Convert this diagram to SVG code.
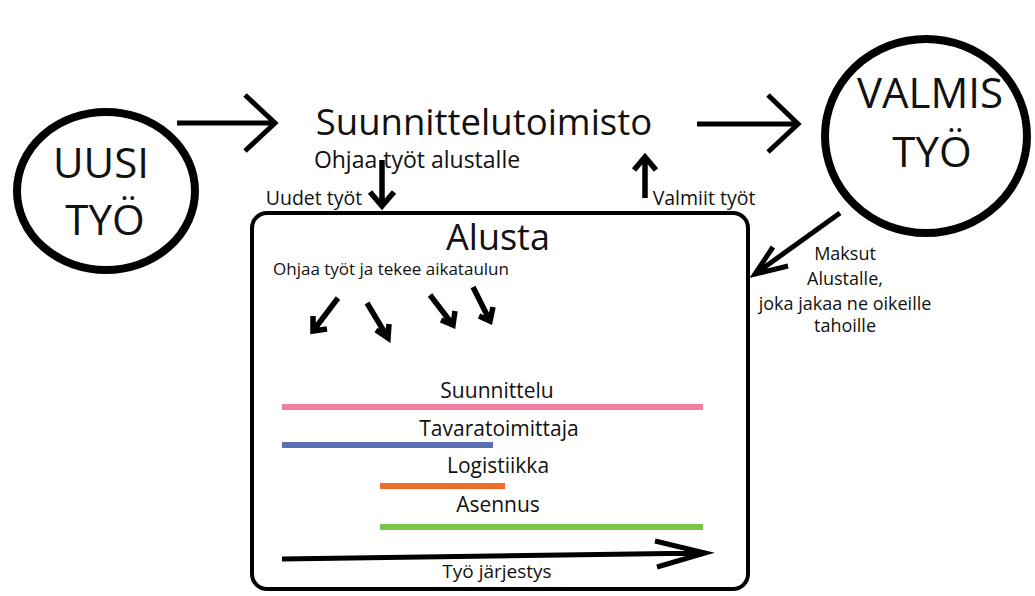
<svg xmlns="http://www.w3.org/2000/svg" width="1035" height="596" viewBox="0 0 1035 596">
<style>
text{font-family:"Open Sans","Noto Sans","Liberation Sans",sans-serif;fill:#111;text-anchor:middle}
.ring{fill:none;stroke:#000;stroke-width:8}
.ln{fill:none;stroke:#000;stroke-width:5;stroke-linecap:butt;stroke-linejoin:miter}
.th{fill:none;stroke:#000;stroke-width:5.5;stroke-linejoin:miter}
.bar{stroke-width:6}
.lab{font-size:21px}
.sm{font-size:18px}
</style>
<rect width="1035" height="596" fill="#fff"/>
<g id="uusi">
<ellipse class="ring" cx="106" cy="191" rx="89" ry="79"/>
<text x="101" y="178" font-size="42">UUSI</text>
<text x="105" y="235" font-size="42">TYÖ</text>
</g>
<g id="suunnittelutoimisto">
<text x="484" y="135" font-size="36.5">Suunnittelutoimisto</text>
<text x="417" y="168" font-size="23">Ohjaa työt alustalle</text>
</g>
<g id="valmis">
<ellipse class="ring" cx="926" cy="136" rx="101" ry="97"/>
<text x="930" y="108" font-size="42">VALMIS</text>
<text x="932" y="167" font-size="42">TYÖ</text>
</g>
<g id="alusta">
<rect x="252" y="213" width="496" height="376" rx="15" fill="none" stroke="#000" stroke-width="4"/>
<text x="498" y="250" font-size="36">Alusta</text>
<text x="391" y="275" font-size="17">Ohjaa työt ja tekee aikataulun</text>
<text class="lab" x="497" y="398">Suunnittelu</text>
<line class="bar" x1="282" y1="407" x2="703" y2="407" stroke="#ef7fa0"/>
<text class="lab" x="499" y="436">Tavaratoimittaja</text>
<line class="bar" x1="282" y1="445" x2="493" y2="445" stroke="#5b6fb3"/>
<text class="lab" x="498" y="473">Logistiikka</text>
<line class="bar" x1="380" y1="486" x2="505" y2="486" stroke="#f06a28"/>
<text class="lab" x="498" y="512">Asennus</text>
<line class="bar" x1="380" y1="527" x2="703" y2="527" stroke="#7cc34a"/>
<text x="497" y="578" font-size="19">Työ järjestys</text>
</g>
<g id="connectors">
<path class="ln" d="M177 123H275M245 95L275 123L245 151"/>
<path class="ln" d="M697 124H798M768 95L798 124L768 152"/>
<path class="th" d="M382 160V206M370 192L382 206L394 192"/>
<text x="314" y="205" font-size="19.5">Uudet työt</text>
<path class="th" d="M645 198V158M634 170L645 157L656 170"/>
<text x="704" y="205" font-size="19.5">Valmiit työt</text>
<path class="ln" d="M840 213L755 274M773 247L755 274L788 266"/>
<text class="sm" x="845" y="260">Maksut</text>
<text class="sm" x="845" y="285">Alustalle,</text>
<text class="sm" x="845" y="310">joka jakaa ne oikeille</text>
<text class="sm" x="845" y="332">tahoille</text>
<path class="th" d="M338 298L313 331M313 316L313 331L327 329"/>
<path class="th" d="M367 303L388 338M376 330L388 338L389 324"/>
<path class="th" d="M430 295L453 325M441 320L453 325L455 311"/>
<path class="th" d="M473 287L490 321M479 316L490 321L493 307"/>
<path class="ln" d="M282 559L705 553M655 541L705 553L657 567"/>
</g>
</svg>
